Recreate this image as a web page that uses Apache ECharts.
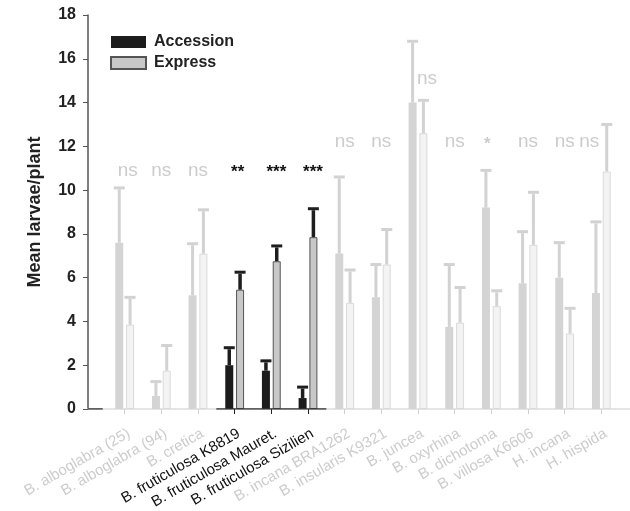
<!DOCTYPE html>
<html><head><meta charset="utf-8">
<script src="https://cdn.jsdelivr.net/npm/echarts@6/dist/echarts.min.js"></script>
<style>html,body{margin:0;padding:0;background:#fff}#c{width:630px;height:511px}</style>
</head><body><div id="c"></div>
<script>
// ---------- data ----------
const categories = ['B. alboglabra (25)','B. alboglabra (94)','B. cretica','B. fruticulosa K8819','B. fruticulosa Mauret.','B. fruticulosa Sizilien','B. incana BRA1262','B. insularis K9321','B. juncea','B. oxyrhina','B. dichotoma','B. villosa K6606','H. incana','H. hispida'];
const accessionMean  = [7.6, 0.6, 5.2, 2.0, 1.75, 0.5, 7.1, 5.1, 14.0, 3.75, 9.2, 5.75, 6.0, 5.3];
const accessionUpper = [10.1, 1.25, 7.55, 2.8, 2.2, 1.0, 10.6, 6.6, 16.8, 6.6, 10.9, 8.1, 7.6, 8.55];
const expressMean    = [3.85, 1.75, 7.1, 5.45, 6.75, 7.85, 4.85, 6.6, 12.6, 3.95, 4.7, 7.5, 3.45, 10.85];
const expressUpper   = [5.1, 2.9, 9.1, 6.25, 7.45, 9.15, 6.35, 8.2, 14.1, 5.55, 5.4, 9.9, 4.6, 13.0];
const significance   = ['ns','ns','ns','**','***','***','ns','ns','ns','ns','*','ns','ns','ns'];
const significanceY  = [10.9, 10.9, 10.9, 10.9, 10.9, 10.9, 12.2, 12.2, 15.1, 12.2, 12.2, 12.2, 12.2, 12.2];
const highlighted    = [3, 4, 5];
const yTickLabels    = ['0','2','4','6','8','10','12','14','16','18'];

// ---------- build ----------
const FONT = "'Liberation Sans', Arial, Helvetica, sans-serif";
const padded = [''].concat(categories, ['']);
const isHi = i => highlighted.indexOf(i) >= 0;
const BAR_W = 8, HALF = 5.4;
const labelShift = {8: 9, 13: -12, 10: -4, 3: 3, 4: 5, 5: 5, 0: 3};

const accData = accessionMean.map((v, i) => ({
  value: [i + 1, v],
  itemStyle: isHi(i) ? {color: '#1c1c1c', borderWidth: 0} : {color: '#d4d4d4', borderWidth: 0}
}));
const expData = expressMean.map((v, i) => ({
  value: [i + 1, v],
  itemStyle: isHi(i) ? {color: '#c8c8c8', borderColor: '#555', borderWidth: 1}
                     : {color: '#f3f3f3', borderColor: '#dadada', borderWidth: 1}
}));
const errData = [];
accessionMean.forEach((v, i) => errData.push([i + 1, v, accessionUpper[i], -1, i]));
expressMean.forEach((v, i) => errData.push([i + 1, v, expressUpper[i], 1, i]));
const sigData = significance.map((s, i) => [i + 1, significanceY[i], i]);

const chart = echarts.init(document.getElementById('c'), null, {renderer: 'canvas'});
chart.setOption({
  animation: false,
  backgroundColor: '#fff',
  textStyle: {fontFamily: FONT},
  grid: {left: 88, top: 15, height: 394, width: 550, containLabel: false, outerBoundsMode: 'none'},
  legend: {
    data: ['Accession', 'Express'], orient: 'vertical', left: 105, top: 29,
    itemWidth: 35, itemHeight: 12, itemGap: 5, icon: 'rect',
    textStyle: {fontSize: 16, fontWeight: 'bold', color: '#222', fontFamily: FONT, padding: [0, 0, 0, 3]}
  },
  xAxis: [
    {
      type: 'category', data: padded, boundaryGap: false, position: 'bottom',
      axisLine: {lineStyle: {color: '#dddddd', width: 1.5}},
      axisTick: {length: 5, lineStyle: {color: '#d0d0d0'},
        interval: (idx, val) => val !== '' && !isHi(idx - 1)},
      axisLabel: {
        interval: 0, rotate: 30, fontSize: 15, margin: 26, fontFamily: FONT,
        padding: [0, -5, 0, 0],
        color: (val, idx) => isHi(categories.indexOf(val)) ? '#111' : '#cccccc'
      },
      splitLine: {show: false}
    },
    {
      type: 'category', data: padded, boundaryGap: false, position: 'bottom',
      axisLine: {show: false},
      axisTick: {length: 5, lineStyle: {color: '#222'}, interval: (idx) => isHi(idx - 1)},
      axisLabel: {show: false}, splitLine: {show: false}
    },
    {type: 'value', min: 0, max: padded.length - 1, show: false, position: 'bottom'}
  ],
  yAxis: {
    type: 'value', min: 0, max: 18, interval: 2,
    name: 'Mean larvae/plant', nameLocation: 'middle', nameGap: 44,
    nameTextStyle: {fontSize: 18, fontWeight: 'bold', color: '#222', fontFamily: FONT},
    axisLine: {show: true, lineStyle: {color: '#555', width: 1.5}},
    axisTick: {show: true, length: 5, lineStyle: {color: '#555'}},
    axisLabel: {fontSize: 16, fontWeight: 'bold', color: '#222', margin: 12, fontFamily: FONT,
      formatter: (v) => yTickLabels[Math.round(v / 2)]},
    splitLine: {show: false}
  },
  series: [
    {name: 'Accession', type: 'bar', xAxisIndex: 0, barWidth: BAR_W, barGap: '35%',
     itemStyle: {color: '#1c1c1c'}, data: accData, z: 2},
    {name: 'Express', type: 'bar', xAxisIndex: 0, barWidth: BAR_W, barGap: '35%',
     itemStyle: {color: '#c8c8c8', borderColor: '#555', borderWidth: 1}, data: expData, z: 2},
    {
      type: 'custom', xAxisIndex: 0, data: errData, z: 3,
      renderItem: function (params, api) {
        const i = api.value(4);
        const p0 = api.coord([api.value(0), api.value(1)]);
        const p1 = api.coord([api.value(0), api.value(2)]);
        const x = p0[0] + api.value(3) * HALF;
        const col = isHi(i) ? '#1e1e1e' : '#d2d2d2';
        const w = isHi(i) ? 3.5 : 3;
        return {type: 'group', children: [
          {type: 'line', shape: {x1: x, y1: p0[1], x2: x, y2: p1[1] + 1.5}, style: {stroke: col, lineWidth: w}},
          {type: 'line', shape: {x1: x - 5.5, y1: p1[1], x2: x + 5.5, y2: p1[1]}, style: {stroke: col, lineWidth: 3}}
        ]};
      }
    },
    {
      type: 'custom', xAxisIndex: 0, data: sigData, z: 4,
      renderItem: function (params, api) {
        const i = api.value(2);
        const p = api.coord([api.value(0), api.value(1)]);
        const s = significance[i];
        const star = s.indexOf('*') >= 0;
        const col = isHi(i) ? '#111' : '#cccccc';
        return {type: 'text', x: p[0] + (labelShift[i] || 0), y: p[1] + (star ? 2 : 0),
          style: {text: s, fill: col, align: 'center', verticalAlign: 'middle',
            font: (star ? 'bold 17px ' : '19px ') + FONT}};
      }
    },
    {type: 'line', xAxisIndex: 2, symbol: 'none', silent: true, z: 5,
     lineStyle: {color: '#333', width: 1.5},
     data: [[highlighted[0] + 0.5, 0], [highlighted[highlighted.length - 1] + 1.5, 0]]},
    {type: 'line', xAxisIndex: 2, symbol: 'none', silent: true, z: 5,
     lineStyle: {color: '#333', width: 1.5},
     data: [[0, 0], [0.4, 0]]}
  ]
});
</script></body></html>
